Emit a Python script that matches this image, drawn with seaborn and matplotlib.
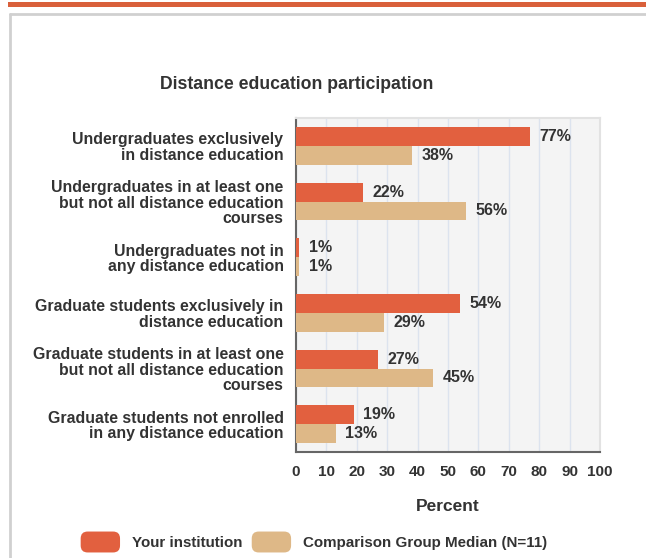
import matplotlib
matplotlib.use("Agg")
import matplotlib.pyplot as plt
import seaborn as sns
import pandas as pd
from matplotlib.patches import FancyBboxPatch, Patch, Rectangle
from matplotlib.legend_handler import HandlerPatch
from matplotlib.lines import Line2D

categories = [
    "Undergraduates exclusively\nin distance education",
    "Undergraduates in at least one\nbut not all distance education\ncourses",
    "Undergraduates not in\nany distance education",
    "Graduate students exclusively in\ndistance education",
    "Graduate students in at least one\nbut not all distance education\ncourses",
    "Graduate students not enrolled\nin any distance education",
]
series_names = ["Your institution", "Comparison Group Median (N=11)"]
your_institution = [77, 22, 1, 54, 27, 19]
comparison_median = [38, 56, 1, 29, 45, 13]
x_ticks = [0, 10, 20, 30, 40, 50, 60, 70, 80, 90, 100]

RED = "#E2603F"
TAN = "#DEB887"
TXT = "#333333"

df = pd.DataFrame({
    "category": categories * 2,
    "series": [series_names[0]] * len(categories) + [series_names[1]] * len(categories),
    "value": your_institution + comparison_median,
})

sns.set_style("white")
plt.rcParams["font.family"] = ["Liberation Sans", "DejaVu Sans"]

fig = plt.figure(figsize=(6.46, 5.58), dpi=100)
ax = fig.add_axes([296 / 646, 1 - 452 / 558, 304 / 646, 334 / 558])
ax.set_facecolor("#F4F4F4")

sns.barplot(data=df, y="category", x="value", hue="series", orient="h",
            palette=[RED, TAN], saturation=1, width=0.68, ax=ax, legend=False,
            edgecolor="none", linewidth=0, zorder=3)

for cont in ax.containers:
    ax.bar_label(cont, fmt="%d%%", padding=7, fontsize=11.5, fontweight="bold",
                 color=TXT)

ax.set_xlim(0, 100)
ax.set_ylim(len(categories) - 0.5, -0.5)
ax.set_xticks(x_ticks)
ax.set_xticklabels([str(t) for t in x_ticks], fontsize=11, fontweight="bold", color=TXT)
ax.tick_params(axis="x", length=0, pad=9)
ax.set_yticks(range(len(categories)))
ax.set_yticklabels(categories, fontsize=11.4, fontweight="bold", color=TXT, linespacing=1.04)
ax.tick_params(axis="y", which="major", length=0, pad=9)
ax.set_yticks([i + 0.5 for i in range(-1, len(categories))], minor=True)
ax.tick_params(axis="y", which="minor", length=5, width=1.2, color="#666666", direction="out")

ax.grid(axis="x", color="#DCE3EE", linewidth=1, zorder=0)
ax.set_axisbelow(True)
ax.set_xlabel("Percent", fontsize=12.5, fontweight="bold", color=TXT, labelpad=15)
ax.set_ylabel("")

for s in ["top", "right"]:
    ax.spines[s].set_color("#E2E2E2")
    ax.spines[s].set_linewidth(1.5)
for s in ["left", "bottom"]:
    ax.spines[s].set_color("#666666")
    ax.spines[s].set_linewidth(1.5)

fig.text(297 / 646, 1 - 85 / 558, "Distance education participation", ha="center",
         va="center", fontsize=12.7, fontweight="bold", color=TXT)

# top decoration
fig.add_artist(Rectangle((8 / 646, 1 - 7 / 558), 638 / 646, 5 / 558,
                         transform=fig.transFigure, facecolor="#D9603B",
                         edgecolor="none"))
fig.add_artist(Line2D([10 / 646, 10 / 646], [0, 1 - 14 / 558],
                      transform=fig.transFigure, color="#D0D0D0", linewidth=2))
fig.add_artist(Line2D([10 / 646, 1], [1 - 14 / 558, 1 - 14 / 558],
                      transform=fig.transFigure, color="#D0D0D0", linewidth=2))


class RoundHandler(HandlerPatch):
    def create_artists(self, legend, orig_handle, xdescent, ydescent, width,
                       height, fontsize, trans):
        p = FancyBboxPatch((-xdescent + 3, -ydescent + 3), width - 6, height - 6,
                           boxstyle="round,pad=3,rounding_size=5",
                           facecolor=orig_handle.get_facecolor(),
                           edgecolor="none", transform=trans)
        return [p]


handles = [Patch(facecolor=RED), Patch(facecolor=TAN)]
leg = fig.legend(handles, series_names, loc="center", bbox_to_anchor=(314 / 646, 1 - 542 / 558),
                 ncol=2, frameon=False, handler_map={Patch: RoundHandler()},
                 handlelength=2.6, handleheight=1.75, handletextpad=0.8,
                 columnspacing=0.6, prop={"weight": "bold", "size": 10.9})
for t in leg.get_texts():
    t.set_color(TXT)

fig.savefig("out.png", dpi=100)
